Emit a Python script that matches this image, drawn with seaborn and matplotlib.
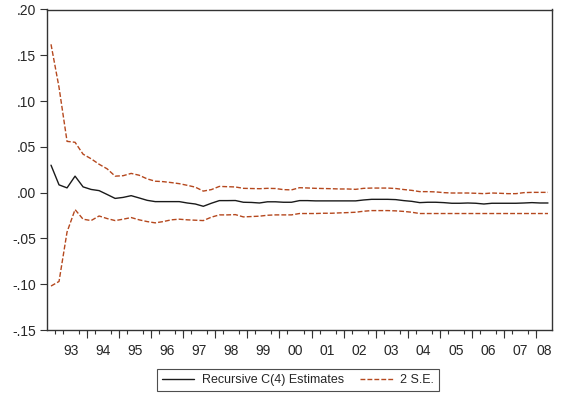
import numpy as np
import pandas as pd
import matplotlib
matplotlib.use("Agg")
import matplotlib.pyplot as plt
import seaborn as sns
from matplotlib.ticker import FuncFormatter, FixedLocator

# Quarterly observations 1992Q4 .. 2008Q2
years = list(range(1993, 2009))
year_labels = ["93", "94", "95", "96", "97", "98", "99", "00",
               "01", "02", "03", "04", "05", "06", "07", "08"]

estimate = [0.030, 0.0085, 0.0052, 0.018, 0.0063, 0.0035, 0.0022, -0.0020,
            -0.0063, -0.0052, -0.0033, -0.0058, -0.0084, -0.0098, -0.0098, -0.0098,
            -0.0098, -0.0113, -0.0124, -0.0149, -0.0116, -0.0087, -0.0087, -0.0086,
            -0.0105, -0.0107, -0.0113, -0.0100, -0.0100, -0.0105, -0.0105, -0.0087,
            -0.0087, -0.0090, -0.0090, -0.0090, -0.0090, -0.0090, -0.0090, -0.0080,
            -0.0073, -0.0073, -0.0073, -0.0076, -0.0087, -0.0095, -0.0109, -0.0105,
            -0.0105, -0.0109, -0.0116, -0.0116, -0.0113, -0.0116, -0.0124, -0.0116,
            -0.0116, -0.0116, -0.0116, -0.0113, -0.0109, -0.0113, -0.0113]

upper = [0.162, 0.115, 0.056, 0.055, 0.042, 0.037, 0.031, 0.026,
         0.018, 0.0185, 0.021, 0.019, 0.015, 0.0125, 0.012, 0.011,
         0.0098, 0.008, 0.006, 0.0017, 0.0033, 0.0068, 0.0065, 0.0062,
         0.0047, 0.0045, 0.0043, 0.0047, 0.0045, 0.0033, 0.0030, 0.0054,
         0.0051, 0.0047, 0.0045, 0.0043, 0.0040, 0.0040, 0.0036, 0.0047,
         0.0050, 0.0050, 0.0050, 0.0045, 0.0034, 0.0025, 0.0011, 0.0011,
         0.0008, 0.0000, -0.0004, -0.0004, -0.0004, -0.0007, -0.0011, -0.0004,
         -0.0007, -0.0011, -0.0011, 0.0000, 0.0003, 0.0003, 0.0003]

lower = [-0.102, -0.097, -0.043, -0.0185, -0.029, -0.0305, -0.0255, -0.0283,
         -0.0305, -0.029, -0.0272, -0.0297, -0.0316, -0.033, -0.0316, -0.0297,
         -0.029, -0.0297, -0.0301, -0.0305, -0.0268, -0.0243, -0.0243, -0.024,
         -0.0265, -0.0261, -0.0257, -0.0247, -0.0243, -0.0243, -0.0243, -0.0228,
         -0.0228, -0.0228, -0.0225, -0.0225, -0.0221, -0.0218, -0.0214, -0.0203,
         -0.0196, -0.0196, -0.0196, -0.0199, -0.0205, -0.0214, -0.0228, -0.0228,
         -0.0228, -0.0228, -0.0228, -0.0228, -0.0228, -0.0228, -0.0228, -0.0228,
         -0.0228, -0.0228, -0.0228, -0.0228, -0.0228, -0.0228, -0.0228]

yticks = [-0.15, -0.10, -0.05, 0.00, 0.05, 0.10, 0.15, 0.20]

sns.set_style("ticks")
plt.rcParams['font.family'] = ['Liberation Sans', 'DejaVu Sans']

n = len(estimate)
idx = np.arange(n)
df = pd.DataFrame({"t": idx, "est": estimate, "up": upper, "lo": lower})

fig = plt.figure(figsize=(5.67, 4.03), dpi=100)
ax = fig.add_axes([47/567, 1 - 330/403, (552-47)/567, (330-9.5)/403])

est_color = "#1a1a1a"
se_color = "#B5481E"
sns.lineplot(data=df, x="t", y="est", ax=ax, color=est_color, lw=1.0,
             label="Recursive C(4) Estimates")
sns.lineplot(data=df, x="t", y="up", ax=ax, color=se_color, lw=1.0,
             linestyle=(0, (3.5, 1.5)), label="2 S.E.")
sns.lineplot(data=df, x="t", y="lo", ax=ax, color=se_color, lw=1.0,
             linestyle=(0, (3.5, 1.5)))

ax.set_xlim(-0.5, n - 0.5)
ax.set_ylim(-0.15, 0.20)
ax.set_xlabel("")
ax.set_ylabel("")

# Year boundaries: first obs is 1992Q4 -> 1993Q1 at index 1
start_q = 1  # index of 1993Q1
year_bounds = [start_q + 4 * (k + 1) - 0.5 for k in range(len(years) - 1)]
year_centers = [min(start_q + 4 * k + 1.5, (start_q + 4 * k - 0.5 + n - 0.5) / 2)
                for k in range(len(years))]

ax.xaxis.set_major_locator(FixedLocator(year_centers))
ax.set_xticklabels(year_labels)
ax.xaxis.set_minor_locator(FixedLocator([k + 0.5 for k in range(n - 1)]))
ax.tick_params(axis="x", which="major", length=0, pad=10, labelsize=10)
ax.tick_params(axis="x", which="minor", length=3, width=0.8, color="#333333")

sec = ax.secondary_xaxis("bottom")
sec.set_xticks(year_bounds)
sec.set_xticklabels([])
sec.tick_params(length=6, width=0.8, color="#333333")
sec.spines["bottom"].set_visible(False)

ax.set_yticks(yticks)
ax.yaxis.set_major_formatter(FuncFormatter(
    lambda v, p: ("-" if v < -1e-9 else "") + ("%.2f" % abs(v)).lstrip("0")))
ax.tick_params(axis="y", length=5, width=0.8, pad=3, labelsize=10, color="#333333")

for s in ax.spines.values():
    s.set_color("#333333")
    s.set_linewidth(1.0)

ax.legend(loc="center", bbox_to_anchor=(298/567, 1 - 380/403),
          bbox_transform=fig.transFigure, ncol=2, frameon=True, fancybox=False,
          edgecolor="#222222", fontsize=9, handlelength=2.6, columnspacing=1.3,
          borderpad=0.4, handletextpad=0.6)
leg = ax.get_legend()
leg.get_frame().set_linewidth(0.8)

fig.savefig("out.png", dpi=100)
